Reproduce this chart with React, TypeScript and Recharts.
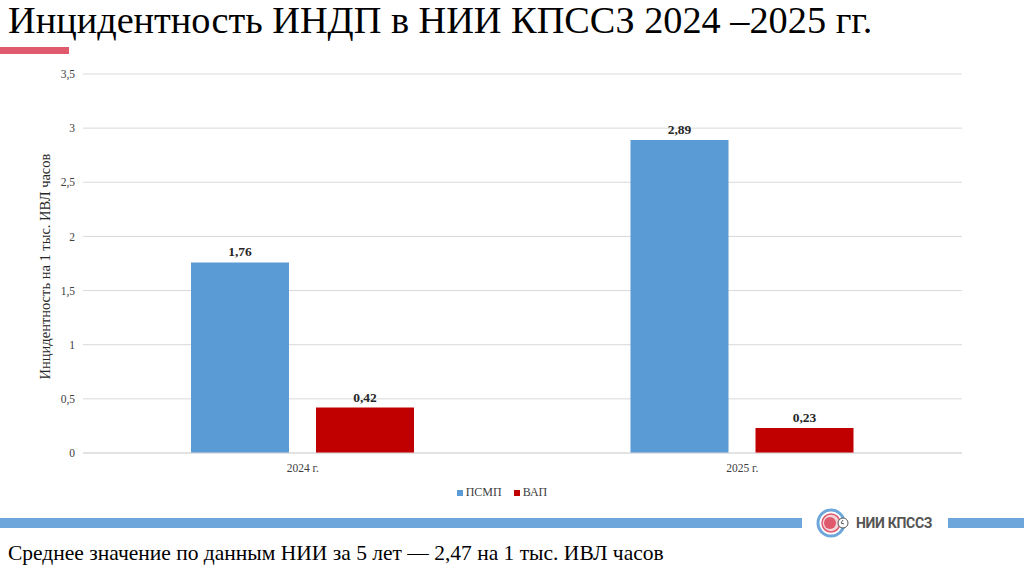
import { BarChart, Bar, XAxis, YAxis, CartesianGrid, LabelList } from 'recharts'

const years = ['2024 г.', '2025 г.']
const psmp = [1.76, 2.89]
const vap = [0.42, 0.23]
const yTicks = [0, 0.5, 1, 1.5, 2, 2.5, 3, 3.5]

const data = years.map((year, i) => ({ year, psmp: psmp[i], vap: vap[i] }))

const serif = 'Liberation Serif, serif'
const comma = (v: number | string) => String(v).replace('.', ',')

function YLabel({ viewBox }: any) {
  const cy = viewBox.y + viewBox.height / 2 + 3
  return (
    <text
      x={45}
      y={cy}
      transform={`rotate(-90 45 ${cy})`}
      textAnchor="middle"
      dominantBaseline="central"
      fontFamily={serif}
      fontSize={14.5}
      fill="#262626"
    >
      Инцидентность на 1 тыс. ИВЛ часов
    </text>
  )
}

function Logo() {
  return (
    <svg width={150} height={32} style={{ position: 'absolute', left: 810, top: 507 }}>
      <circle cx={21} cy={16} r={13} fill="none" stroke="#6CA6DA" strokeWidth={3} />
      <circle cx={21} cy={16} r={9} fill="#F3D5DA" stroke="#E05A6E" strokeWidth={1.5} />
      <circle cx={20} cy={16} r={6} fill="#E05A6E" />
      <circle cx={33} cy={16} r={5} fill="#fff" stroke="#555" strokeWidth={1} />
      <path d="M33 13 L31 16 L34 17" fill="none" stroke="#555" strokeWidth={1} />
      <text x={46} y={21} fontFamily="Roboto, sans-serif" fontWeight={700} fontSize={14} fill="#555" letterSpacing={-0.3}>
        НИИ КПССЗ
      </text>
    </svg>
  )
}

export default function App() {
  return (
    <div style={{ position: 'fixed', left: 0, top: 0, width: 1024, height: 574, background: '#fff', overflow: 'hidden' }}>
      <div style={{ position: 'absolute', left: 8, top: -1, fontFamily: serif, fontSize: 38.3, lineHeight: '42px', color: '#000', whiteSpace: 'nowrap' }}>
        Инцидентность ИНДП в НИИ КПССЗ 2024 –2025 гг.
      </div>
      <div style={{ position: 'absolute', left: 0, top: 47, width: 69, height: 7, background: '#E05A6E' }} />

      <div style={{ position: 'absolute', left: 0, top: 0 }}>
        <BarChart
          width={1024}
          height={574}
          data={data}
          margin={{ top: 74, right: 62, bottom: 91, left: 0 }}
          barCategoryGap={108}
          barGap={27}
        >
          <CartesianGrid vertical={false} stroke="#D9D9D9" />
          <XAxis
            dataKey="year"
            height={30}
            axisLine={{ stroke: '#D9D9D9' }}
            tickLine={false}
            tick={{ fontFamily: serif, fontSize: 11.5, fill: '#404040' }}
            tickMargin={5}
          />
          <YAxis
            width={83}
            domain={[0, 3.5]}
            ticks={yTicks}
            axisLine={false}
            tickLine={false}
            tickFormatter={comma}
            tick={{ fontFamily: serif, fontSize: 11.5, fill: '#404040' }}
            label={<YLabel />}
          />
          <Bar dataKey="psmp" fill="#5B9BD5" isAnimationActive={false}>
            <LabelList dataKey="psmp" position="top" offset={6} formatter={comma} style={{ fontFamily: serif, fontSize: 13.5, fontWeight: 700, fill: '#262626' }} />
          </Bar>
          <Bar dataKey="vap" fill="#C00000" isAnimationActive={false}>
            <LabelList dataKey="vap" position="top" offset={6} formatter={comma} style={{ fontFamily: serif, fontSize: 13.5, fontWeight: 700, fill: '#262626' }} />
          </Bar>
        </BarChart>
      </div>

      <div style={{ position: 'absolute', left: -10, width: 1024, top: 485, display: 'flex', justifyContent: 'center', gap: 12, fontFamily: serif, fontSize: 12, color: '#404040' }}>
        <span style={{ display: 'flex', alignItems: 'center', gap: 3 }}>
          <span style={{ width: 6, height: 6, background: '#5B9BD5', display: 'inline-block' }} />ПСМП
        </span>
        <span style={{ display: 'flex', alignItems: 'center', gap: 3 }}>
          <span style={{ width: 6, height: 6, background: '#C00000', display: 'inline-block' }} />ВАП
        </span>
      </div>

      <div style={{ position: 'absolute', left: 0, top: 518, width: 802, height: 10, background: '#6CA6DA' }} />
      <div style={{ position: 'absolute', left: 948, top: 518, width: 76, height: 10, background: '#6CA6DA' }} />
      <Logo />

      <div style={{ position: 'absolute', left: 8, top: 540, fontFamily: serif, fontSize: 21.5, lineHeight: '26px', color: '#000', whiteSpace: 'nowrap' }}>
        Среднее значение по данным НИИ за 5 лет — 2,47 на 1 тыс. ИВЛ часов
      </div>
    </div>
  )
}
